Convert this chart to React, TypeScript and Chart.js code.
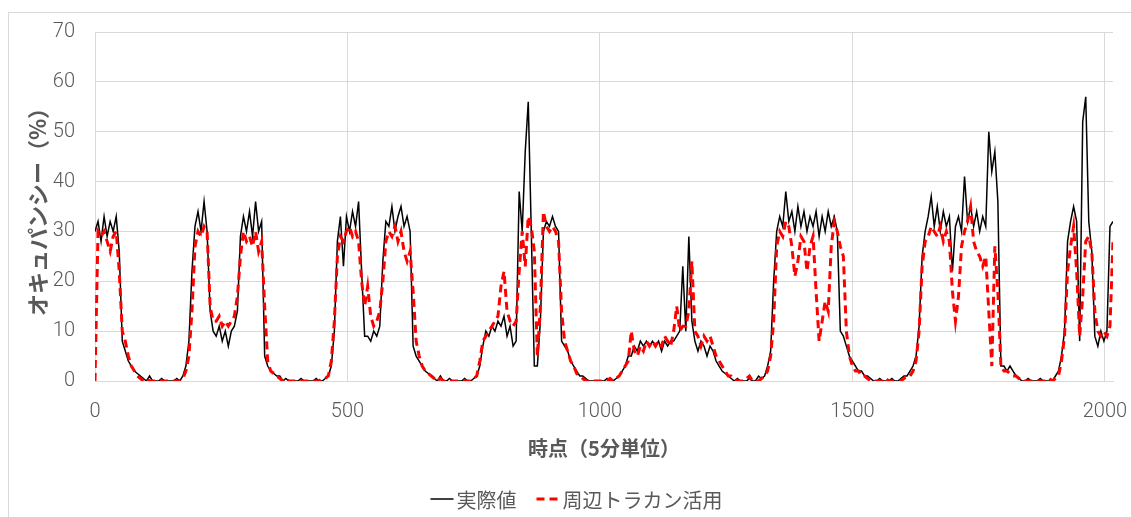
import React, { useEffect, useRef } from "react";
import { Chart, registerables } from "chart.js";

Chart.register(...registerables);

// time index step (5-minute points, sampled every 6 points)
const STEP = 6;
const X_MAX = 2016;
const X_TICKS = [0, 500, 1000, 1500, 2000];
const Y_TICKS = [0, 10, 20, 30, 40, 50, 60, 70];

const SERIES_NAMES = ["実際値", "周辺トラカン活用"];
const X_TITLE = "時点（5分単位）";
const Y_TITLE = "オキュパンシー（%）";

// 実際値 (x = 0, 6, 12, ... 2016)
const actual = [
  30, 32, 28, 33, 29, 32, 30, 33, 26, 8,
  6, 4, 3, 2, 1.5, 1, 0.5, 0, 1, 0,
  0, 0, 0.5, 0, 0, 0, 0, 0.5, 0, 1,
  3, 8, 22, 31, 34, 30, 36, 30, 14, 10,
  9, 11, 8, 10, 7, 10, 11, 14, 29, 33,
  30, 34, 29, 36, 30, 32, 5, 3, 2, 1.5,
  1, 1, 0, 0.5, 0, 0, 0, 0, 0.5, 0,
  0, 0, 0, 0.5, 0, 0, 0.5, 1, 3, 10,
  28, 33, 23, 33, 30, 34, 31, 36, 22, 9,
  9, 8, 10, 9, 11, 24, 32, 31, 35, 30,
  33, 35, 31, 33, 30, 7, 5, 4, 3, 2,
  1.5, 1, 0.5, 0, 1, 0, 0, 0.5, 0, 0,
  0, 0, 0.5, 0, 0, 0.5, 1, 3, 7, 10,
  9, 11, 10, 12, 11, 13, 9, 11, 7, 8,
  38, 30, 46, 56, 30, 3, 3, 12, 30, 32,
  31, 33, 31, 30, 8, 7, 6, 4, 3, 2,
  1, 1, 0.5, 0, 0, 0, 0, 0, 0, 0.5,
  0, 0, 0.5, 1, 2, 3, 5, 5, 7, 6,
  8, 7, 8, 7, 8, 7, 8, 6, 8, 7,
  8, 8, 9, 10, 23, 10, 29, 12, 8, 6,
  8, 7, 5, 7, 6, 4, 3, 2, 1.5, 1,
  0.5, 0, 0.5, 0, 0, 0, 0.5, 0, 0, 1,
  0.5, 1, 3, 6, 20, 30, 33, 31, 38, 32,
  34, 30, 35, 31, 34, 30, 33, 31, 34, 29,
  33, 30, 34, 31, 33, 30, 10, 9, 7, 5,
  4, 3, 2, 2, 1, 1, 0.5, 0, 0, 0.5,
  0, 0, 0, 0.5, 0, 0, 0.5, 1, 1, 2,
  3, 5, 11, 25, 30, 33, 37, 31, 35, 30,
  34, 31, 33, 22, 31, 33, 30, 41, 32, 35,
  31, 34, 30, 33, 31, 50, 42, 46, 36, 3,
  3, 2, 3, 2, 1, 0.5, 0, 0, 0.5, 0,
  0, 0, 0.5, 0, 0, 0, 0, 1, 2, 5,
  10, 28, 32, 35, 32, 8, 52, 57, 32, 26,
  9, 7, 10, 8, 10, 31, 32,
];

// 周辺トラカン活用 (x = 0, 6, 12, ... 2016)
const estimated = [
  0, 30, 29, 30, 28, 26, 29, 30, 22, 10,
  8, 5, 3, 2, 1, 0.5, 0, 0.5, 0, 0,
  0, 0, 0, 0, 0, 0, 0, 0, 0, 0.5,
  2, 5, 14, 27, 30, 29, 31, 30, 15, 12,
  12, 13, 11, 12, 11, 12, 13, 17, 25, 30,
  28, 29, 27, 30, 26, 28, 15, 4, 2, 1.5,
  1, 0.5, 0, 0.5, 0, 0, 0, 0, 0, 0,
  0, 0, 0, 0, 0, 0.5, 0.5, 1, 4, 12,
  25, 29, 28, 30, 31, 29, 30, 28, 20, 15,
  19, 13, 11, 12, 14, 20, 28, 30, 29, 31,
  28, 30, 26, 24, 26, 18, 8, 5, 3, 2,
  1.5, 1, 0.5, 0, 0.5, 0, 0, 0, 0, 0,
  0, 0, 0, 0, 0, 0.5, 1, 4, 8, 9,
  10, 11, 12, 13, 19, 22, 14, 12, 11, 12,
  22, 30, 23, 33, 31, 26, 5, 15, 34, 31,
  30, 31, 30, 28, 14, 8, 6, 4, 3, 1.5,
  1, 0.5, 0, 0, 0, 0, 0, 0, 0, 0,
  0.5, 0, 0.5, 1, 2, 3, 4, 10, 6, 5,
  7, 6, 8, 7, 8, 7, 8, 7, 9, 8,
  7, 10, 15, 10, 11, 11, 14, 24, 10, 9,
  7, 9, 8, 9, 7, 5, 4, 3, 2, 1,
  1, 0.5, 0, 0, 0, 0.5, 1, 0, 0, 0,
  0.5, 1, 2, 5, 12, 27, 30, 29, 32, 31,
  27, 21, 24, 29, 28, 22, 27, 29, 18, 8,
  12, 16, 14, 27, 32, 30, 27, 25, 10, 5,
  3, 2, 2, 1, 1, 0.5, 0, 0, 0, 0,
  0, 0.5, 0, 0, 0, 0, 0, 0.5, 1, 1,
  2, 4, 10, 23, 28, 29, 31, 30, 29, 31,
  28, 30, 28, 18, 12, 17, 27, 30, 32, 35,
  28, 26, 25, 23, 25, 14, 3, 27, 18, 3,
  2, 2, 1.5, 1, 1, 0.5, 0, 0, 0, 0,
  0, 0, 0, 0, 0, 0.5, 0, 0.5, 1, 4,
  9, 22, 27, 31, 22, 9, 17, 28, 29, 26,
  14, 10, 9, 10, 9, 11, 28,
];

const timeIndex = actual.map((_, i) => i * STEP);

const TEXT_COLOR = "#595959";
const GRID_COLOR = "#d9d9d9";
const NUM_FONT = '"Liberation Sans Narrow", Roboto, sans-serif';
const JP_FONT = '"Noto Sans CJK JP", "Noto Sans", sans-serif';

const framePlugin = {
  id: "frame",
  beforeDraw(chart: any) {
    const ctx = chart.ctx;
    ctx.save();
    ctx.fillStyle = "#ffffff";
    ctx.fillRect(0, 0, chart.width, chart.height);
    ctx.strokeStyle = "#d9d9d9";
    ctx.lineWidth = 1;
    ctx.strokeRect(8.5, 12.5, chart.width + 20, chart.height + 20);
    ctx.restore();
  },
};

const legendPlugin = {
  id: "bottomLegend",
  afterDraw(chart: any) {
    const ctx = chart.ctx;
    const dsets = chart.data.datasets;
    ctx.save();
    ctx.font = `20px ${JP_FONT}`;
    const sampleW = 23;
    const gapText = 3;
    const gapItem = 20;
    const widths = dsets.map((d: any) => sampleW + gapText + ctx.measureText(d.label).width);
    const total = widths.reduce((a: number, b: number) => a + b, 0) + gapItem * (dsets.length - 1);
    let x = chart.width / 2 + 11 - total / 2;
    const y = 499;
    dsets.forEach((d: any, i: number) => {
      ctx.beginPath();
      ctx.setLineDash(d.borderDash || []);
      ctx.lineWidth = d.borderWidth;
      ctx.strokeStyle = d.borderColor;
      ctx.moveTo(x, y);
      ctx.lineTo(x + sampleW, y);
      ctx.stroke();
      ctx.setLineDash([]);
      ctx.fillStyle = TEXT_COLOR;
      ctx.textBaseline = "middle";
      ctx.textAlign = "left";
      ctx.fillText(d.label, x + sampleW + gapText, y + 1);
      x += widths[i] + gapItem;
    });
    ctx.restore();
  },
};

export default function App() {
  const ref = useRef<HTMLCanvasElement | null>(null);

  useEffect(() => {
    document.body.style.margin = "0";
    const canvas = ref.current;
    if (!canvas) return;
    const chart = new Chart(canvas, {
      type: "line",
      data: {
        datasets: [
          {
            label: SERIES_NAMES[0],
            data: timeIndex.map((x, i) => ({ x, y: actual[i] })),
            borderColor: "#000000",
            borderWidth: 1.5,
            pointRadius: 0,
            tension: 0,
            fill: false,
            order: 1,
          },
          {
            label: SERIES_NAMES[1],
            data: timeIndex.map((x, i) => ({ x, y: estimated[i] })),
            borderColor: "#ff0000",
            borderWidth: 3,
            borderDash: [8, 5],
            pointRadius: 0,
            tension: 0,
            fill: false,
            order: 0,
          },
        ],
      },
      options: {
        responsive: false,
        animation: false,
        parsing: false as any,
        layout: { padding: { left: 0, right: 18, top: 32, bottom: 0 } },
        plugins: {
          legend: { display: false },
          tooltip: { enabled: false },
          title: { display: false },
        },
        scales: {
          x: {
            type: "linear",
            min: 0,
            max: X_MAX,
            afterBuildTicks: (axis: any) => {
              axis.ticks = X_TICKS.map((v) => ({ value: v }));
            },
            afterFit: (axis: any) => {
              axis.height = 136;
              axis.paddingLeft = 0;
              axis.paddingRight = 0;
            },
            grid: { color: GRID_COLOR, lineWidth: 1, drawTicks: false },
            border: { display: true, color: GRID_COLOR, width: 1 },
            ticks: {
              padding: 19,
              maxRotation: 0,
              autoSkip: false,
              color: TEXT_COLOR,
              font: { family: NUM_FONT, size: 20, weight: "300" },
              callback: (v: any) => String(v),
            },
            title: {
              display: true,
              text: X_TITLE,
              color: TEXT_COLOR,
              font: { family: JP_FONT, size: 20, weight: "bold" },
              padding: { top: 0, bottom: 57 },
            },
          },
          y: {
            type: "linear",
            min: 0,
            max: 70,
            afterBuildTicks: (axis: any) => {
              axis.ticks = Y_TICKS.map((v) => ({ value: v }));
            },
            afterFit: (axis: any) => {
              axis.width = 95;
            },
            grid: { color: GRID_COLOR, lineWidth: 1, drawTicks: false },
            border: { display: true, color: GRID_COLOR, width: 1 },
            ticks: {
              padding: 20,
              color: TEXT_COLOR,
              font: { family: NUM_FONT, size: 20, weight: "300" },
              callback: (v: any) => String(v),
            },
            title: {
              display: true,
              text: Y_TITLE,
              color: TEXT_COLOR,
              font: { family: JP_FONT, size: 22, weight: "bold" },
              padding: { top: 24, bottom: 0 },
            },
          },
        },
      },
      plugins: [framePlugin, legendPlugin],
    });
    return () => chart.destroy();
  }, []);

  return <canvas ref={ref} width={1131} height={517} style={{ display: "block" }} />;
}
